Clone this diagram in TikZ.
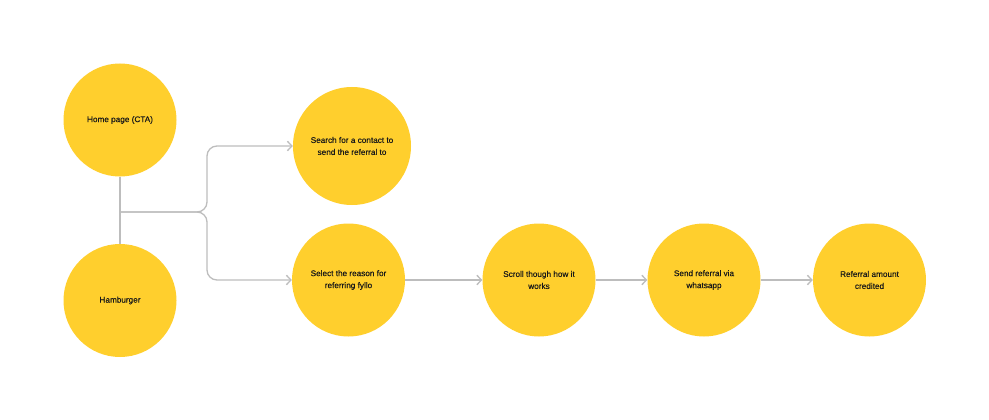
\documentclass[tikz,border=0pt]{standalone}
\usepackage{fontspec}
\setmainfont{Liberation Sans}
\newfontfamily\labelfont[FakeBold=0.35]{Liberation Sans}
\usetikzlibrary{arrows.meta}
\definecolor{bubble}{RGB}{255,207,45}
\definecolor{wire}{RGB}{189,189,189}
\definecolor{ink}{RGB}{25,25,25}
\tikzset{
  bubblenode/.style={circle, fill=bubble, draw=none, inner sep=0pt, minimum size=113pt,
    align=center, text=ink, font=\labelfont\fontsize{8.2}{12}\selectfont},
  wireline/.style={draw=wire, line width=1.3pt},
  wirearrow/.style={wireline, -{Straight Barb[length=4.5pt,width=9.5pt]}},
}
\begin{document}
\begin{tikzpicture}[x=1pt,y=-1pt]
\useasboundingbox (0,0) rectangle (989,420);
\fill[white] (0,0) rectangle (989,420);
\node[bubblenode] (home) at (120,120) {Home page (CTA)};
\node[bubblenode] (ham) at (120,300.5) {Hamburger};
\node[bubblenode, minimum size=118pt] (search) at (352,146) {Search for a contact to\\send the referral to};
\node[bubblenode] (select) at (348.5,280) {Select the reason for\\referring fyllo};
\node[bubblenode] (scroll) at (539,280) {Scroll though how it\\works};
\node[bubblenode] (send) at (704,280) {Send referral via\\whatsapp};
\node[bubblenode] (credit) at (869.5,280) {Referral amount\\credited};
\coordinate (junc) at (120,212);
\coordinate (fork) at (207,212);
\draw[wireline] (home.south) -- (ham.north);
\draw[wirearrow, rounded corners=10pt] (junc) -- (fork) |- (search.west);
\draw[wirearrow, rounded corners=10pt] (junc) -- (fork) |- (select.west);
\draw[wirearrow] (select.east) -- (scroll.west);
\draw[wirearrow] (scroll.east) -- (send.west);
\draw[wirearrow] (send.east) -- (credit.west);
\end{tikzpicture}
\end{document}
